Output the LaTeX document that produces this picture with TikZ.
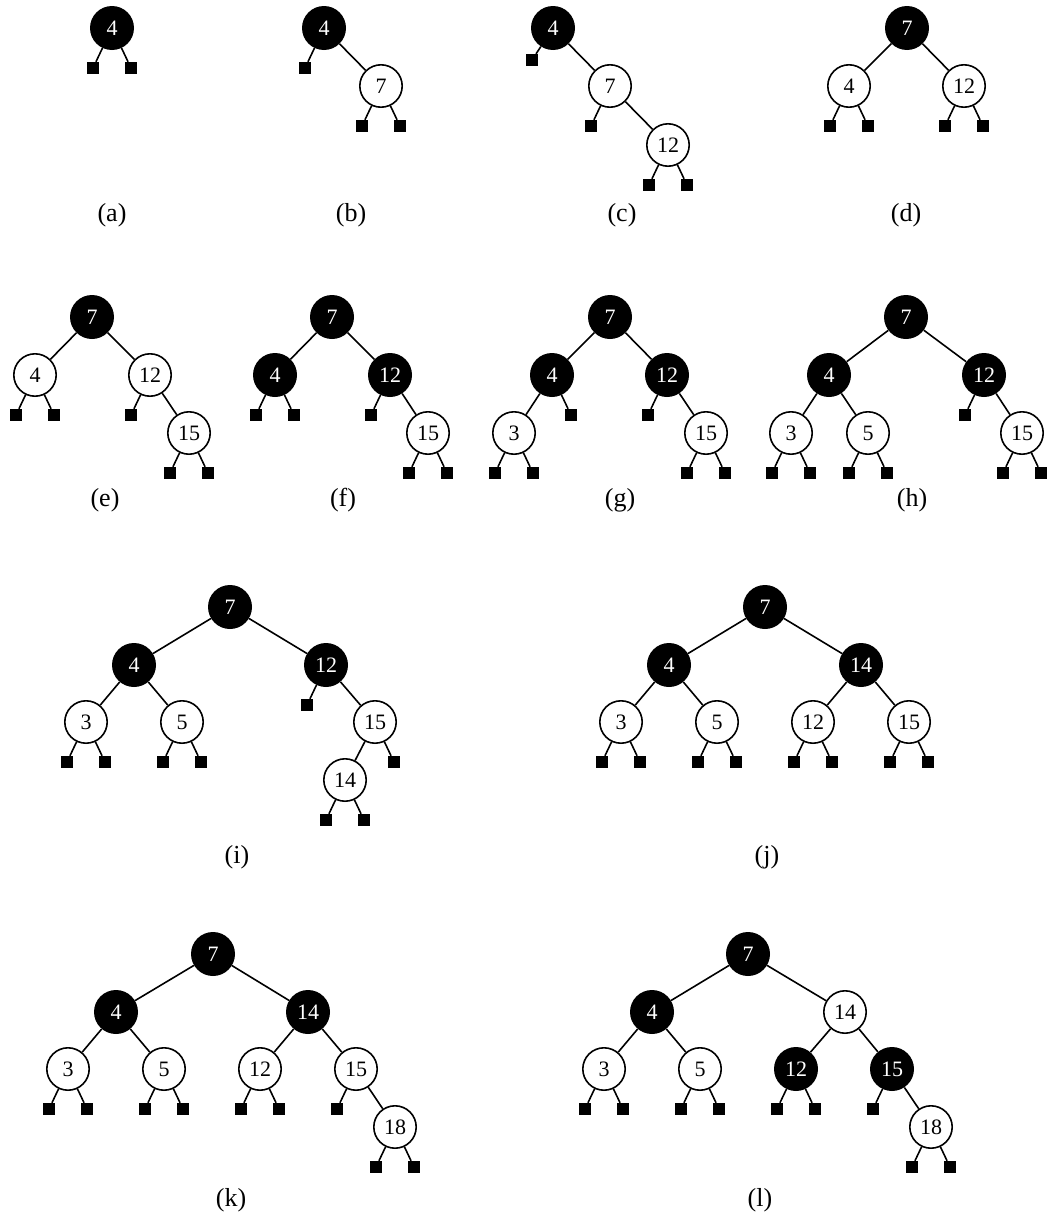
\documentclass[tikz,border=0pt]{standalone}
\usepackage{fontspec}
\setmainfont{Liberation Serif}
\tikzset{
  bn/.style={circle, fill=black, text=white, minimum size=44pt, inner sep=0pt, font=\fontsize{22}{22}\selectfont},
  wn/.style={circle, draw=black, line width=1.6pt, fill=white, text=black, minimum size=42.4pt, inner sep=0pt, font=\fontsize{22}{22}\selectfont},
  lf/.style={rectangle, fill=black, minimum size=12pt, inner sep=0pt},
  edge/.style={line width=1.6pt, black},
  lab/.style={font=\fontsize{26}{26}\selectfont, inner sep=0pt}
}
\newcommand\leafL[1]{\node[lf] (#1L) at ([shift={(-19,40)}]#1.center) {}; \draw[edge] (#1) -- (#1L);}
\newcommand\leafR[1]{\node[lf] (#1R) at ([shift={(19,40)}]#1.center) {}; \draw[edge] (#1) -- (#1R);}
\newcommand\leafB[1]{\leafL{#1}\leafR{#1}}
\begin{document}
\begin{tikzpicture}[x=1pt, y=-1pt]
\useasboundingbox (0,0) rectangle (1048,1218);
% (a)
\node[bn] (A1) at (112,28) {4};
\leafB{A1}
\node[lab] (la) at (112,215) {(a)};
% (b)
\node[bn] (B1) at (324,28) {4};
\node[wn] (B2) at (381,86) {7};
\draw[edge] (B1) -- (B2);
\leafL{B1}\leafB{B2}
\node[lab] (lb) at (351,215) {(b)};
% (c)
\node[bn] (C1) at (553,28) {4};
\node[wn] (C2) at (610,86) {7};
\node[wn] (C3) at (668,145) {12};
\draw[edge] (C1) -- (C2);
\draw[edge] (C2) -- (C3);
\node[lf] (C1L) at (532,60) {};
\draw[edge] (C1) -- (C1L);
\leafL{C2}\leafB{C3}
\node[lab] (lc) at (622,215) {(c)};
% (d)
\node[bn] (D1) at (907,28) {7};
\node[wn] (D2) at (849,86) {4};
\node[wn] (D3) at (964,86) {12};
\draw[edge] (D1) -- (D2);
\draw[edge] (D1) -- (D3);
\leafB{D2}\leafB{D3}
\node[lab] (ld) at (906,215) {(d)};
% (e)
\node[bn] (E1) at (92,317) {7};
\node[wn] (E2) at (35,375) {4};
\node[wn] (E3) at (150,375) {12};
\node[wn] (E4) at (189,433) {15};
\draw[edge] (E1) -- (E2);
\draw[edge] (E1) -- (E3);
\draw[edge] (E3) -- (E4);
\leafB{E2}\leafL{E3}\leafB{E4}
\node[lab] (le) at (105,500) {(e)};
% (f)
\node[bn] (F1) at (332,317) {7};
\node[bn] (F2) at (275,375) {4};
\node[bn] (F3) at (390,375) {12};
\node[wn] (F4) at (428,433) {15};
\draw[edge] (F1) -- (F2);
\draw[edge] (F1) -- (F3);
\draw[edge] (F3) -- (F4);
\leafB{F2}\leafL{F3}\leafB{F4}
\node[lab] (lf) at (343,500) {(f)};
% (g)
\node[bn] (G1) at (610,317) {7};
\node[bn] (G2) at (552,375) {4};
\node[bn] (G3) at (667,375) {12};
\node[wn] (G4) at (514,433) {3};
\node[wn] (G5) at (706,433) {15};
\draw[edge] (G1) -- (G2);
\draw[edge] (G1) -- (G3);
\draw[edge] (G2) -- (G4);
\draw[edge] (G3) -- (G5);
\leafR{G2}\leafL{G3}\leafB{G4}\leafB{G5}
\node[lab] (lg) at (620,500) {(g)};
% (h)
\node[bn] (H1) at (906,317) {7};
\node[bn] (H2) at (829,375) {4};
\node[bn] (H3) at (984,375) {12};
\node[wn] (H4) at (791,433) {3};
\node[wn] (H5) at (868,433) {5};
\node[wn] (H6) at (1022,433) {15};
\draw[edge] (H1) -- (H2);
\draw[edge] (H1) -- (H3);
\draw[edge] (H2) -- (H4);
\draw[edge] (H2) -- (H5);
\draw[edge] (H3) -- (H6);
\leafL{H3}\leafB{H4}\leafB{H5}\leafB{H6}
\node[lab] (lh) at (912,500) {(h)};
% (i)
\node[bn] (I1) at (230,607) {7};
\node[bn] (I2) at (134,665) {4};
\node[bn] (I3) at (326,665) {12};
\node[wn] (I4) at (86,722) {3};
\node[wn] (I5) at (182,722) {5};
\node[wn] (I6) at (375,722) {15};
\node[wn] (I7) at (345,780) {14};
\draw[edge] (I1) -- (I2);
\draw[edge] (I1) -- (I3);
\draw[edge] (I2) -- (I4);
\draw[edge] (I2) -- (I5);
\draw[edge] (I3) -- (I6);
\draw[edge] (I6) -- (I7);
\leafL{I3}\leafB{I4}\leafB{I5}\leafR{I6}\leafB{I7}
\node[lab] (li) at (237,857) {(i)};
% (j)
\node[bn] (J1) at (765,607) {7};
\node[bn] (J2) at (669,665) {4};
\node[bn] (J3) at (861,665) {14};
\node[wn] (J4) at (621,722) {3};
\node[wn] (J5) at (717,722) {5};
\node[wn] (J6) at (813,722) {12};
\node[wn] (J7) at (909,722) {15};
\draw[edge] (J1) -- (J2);
\draw[edge] (J1) -- (J3);
\draw[edge] (J2) -- (J4);
\draw[edge] (J2) -- (J5);
\draw[edge] (J3) -- (J6);
\draw[edge] (J3) -- (J7);
\leafB{J4}\leafB{J5}\leafB{J6}\leafB{J7}
\node[lab] (lj) at (767,857) {(j)};
% (k)
\node[bn] (K1) at (213,954) {7};
\node[bn] (K2) at (116,1012) {4};
\node[bn] (K3) at (308,1012) {14};
\node[wn] (K4) at (68,1069) {3};
\node[wn] (K5) at (164,1069) {5};
\node[wn] (K6) at (260,1069) {12};
\node[wn] (K7) at (356,1069) {15};
\node[wn] (K8) at (395,1127) {18};
\draw[edge] (K1) -- (K2);
\draw[edge] (K1) -- (K3);
\draw[edge] (K2) -- (K4);
\draw[edge] (K2) -- (K5);
\draw[edge] (K3) -- (K6);
\draw[edge] (K3) -- (K7);
\draw[edge] (K7) -- (K8);
\leafB{K4}\leafB{K5}\leafB{K6}\leafL{K7}\leafB{K8}
\node[lab] (lk) at (231,1200) {(k)};
% (l)
\node[bn] (L1) at (748,954) {7};
\node[bn] (L2) at (652,1012) {4};
\node[wn] (L3) at (845,1012) {14};
\node[wn] (L4) at (604,1069) {3};
\node[wn] (L5) at (700,1069) {5};
\node[bn] (L6) at (796,1069) {12};
\node[bn] (L7) at (892,1069) {15};
\node[wn] (L8) at (931,1127) {18};
\draw[edge] (L1) -- (L2);
\draw[edge] (L1) -- (L3);
\draw[edge] (L2) -- (L4);
\draw[edge] (L2) -- (L5);
\draw[edge] (L3) -- (L6);
\draw[edge] (L3) -- (L7);
\draw[edge] (L7) -- (L8);
\leafB{L4}\leafB{L5}\leafB{L6}\leafL{L7}\leafB{L8}
\node[lab] (ll) at (760,1200) {(l)};
\end{tikzpicture}
\end{document}
